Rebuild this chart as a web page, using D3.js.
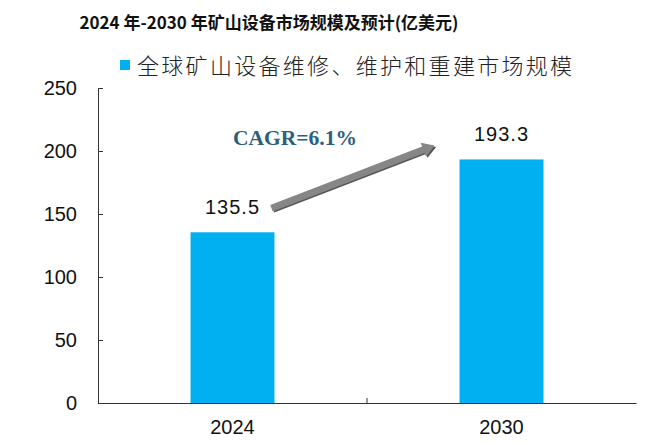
<!DOCTYPE html>
<html><head><meta charset="utf-8">
<script src="https://cdn.jsdelivr.net/npm/d3@7"></script>
<style>body{margin:0;background:#fff}svg{display:block}</style>
</head><body>
<svg id="c" width="660" height="443"></svg>
<script>
const categories = ["2024", "2030"];
const values = [135.5, 193.3];
const valueLabels = ["135.5", "193.3"];
const yTicks = [0, 50, 100, 150, 200, 250];
const seriesName = "全球矿山设备维修、维护和重建市场规模";
const titleText = "2024 年-2030 年矿山设备市场规模及预计(亿美元)";
const cagrText = "CAGR=6.1%";

const svg = d3.select("#c");
const x = d3.scaleBand().domain(categories).range([98, 636]).paddingInner(0.688).paddingOuter(0.344);
const y = d3.scaleLinear().domain([0, 250]).range([403, 88]);

svg.append("text").attr("x", 269).attr("y", 29).attr("text-anchor", "middle")
  .attr("font-family", "'Noto Sans CJK SC', sans-serif").attr("font-weight", "bold")
  .attr("font-size", 17).attr("fill", "#111").text(titleText);

// legend
svg.append("rect").attr("x", 120).attr("y", 60).attr("width", 10).attr("height", 10).attr("fill", "#00b0f0");
svg.append("text").attr("x", 137).attr("y", 74)
  .attr("font-family", "'Noto Sans CJK SC', sans-serif").attr("font-weight", 300)
  .attr("font-size", 22).attr("letter-spacing", 2.3).attr("fill", "#222").text(seriesName);

// bars
svg.selectAll("rect.bar").data(values).join("rect").attr("class", "bar")
  .attr("x", (d, i) => x(categories[i])).attr("width", x.bandwidth())
  .attr("y", d => y(d)).attr("height", d => y(0) - y(d)).attr("fill", "#00b0f0");

// y axis
const ya = svg.append("g").attr("transform", "translate(98,0)")
  .call(d3.axisLeft(y).tickValues(yTicks).tickSize(-5).tickPadding(21));
ya.select(".domain").attr("stroke", "#333");
ya.selectAll(".tick line").attr("stroke", "#333");
ya.selectAll("text").attr("font-family", "'Liberation Sans', Arial, sans-serif").attr("font-size", 20).attr("fill", "#111");

// x axis
const xa = svg.append("g").attr("transform", "translate(0,403)")
  .call(d3.axisBottom(x).tickSize(0).tickPadding(17));
xa.select(".domain").attr("stroke", "#333");
xa.selectAll("text").attr("font-family", "'Liberation Sans', Arial, sans-serif").attr("font-size", 20).attr("fill", "#111");
const mid = (x(categories[0]) + x(categories[1]) + x.bandwidth()) / 2;
svg.append("line").attr("x1", mid).attr("x2", mid).attr("y1", 403).attr("y2", 398).attr("stroke", "#333");

// value labels
svg.selectAll("text.val").data(values).join("text").attr("class", "val")
  .attr("x", (d, i) => x(categories[i]) + x.bandwidth() / 2).attr("y", d => y(d) - 18)
  .attr("text-anchor", "middle").attr("font-family", "'Liberation Sans', Arial, sans-serif")
  .attr("font-size", 20).attr("letter-spacing", 1).attr("fill", "#111")
  .text((d, i) => valueLabels[i]);

// CAGR arrow
const x0 = x(categories[0]) + x.bandwidth() / 2 + 39, y0 = y(values[0]) - 24;
const x1 = x(categories[1]) - 25, y1 = y(values[1]) - 14;
const ang = Math.atan2(y1 - y0, x1 - x0);
const len = Math.hypot(x1 - x0, y1 - y0);
const g = svg.append("g").attr("transform", `translate(${x0},${y0}) rotate(${ang * 180 / Math.PI})`);
g.append("path").attr("d", `M0,-3 L${len - 12},-3 L${len - 12},-7 L${len},0 L${len - 12},7 L${len - 12},3 L0,3 Z`)
  .attr("fill", "#555").attr("transform", "translate(1,2)");
g.append("path").attr("d", `M0,-3.5 L${len - 12},-3.5 L${len - 12},-7.5 L${len},0 L${len - 12},7.5 L${len - 12},3.5 L0,3.5 Z`)
  .attr("fill", "#868686");
svg.append("text").attr("x", 295).attr("y", 145).attr("text-anchor", "middle")
  .attr("font-family", "'Liberation Serif', 'Times New Roman', serif").attr("font-weight", "bold")
  .attr("font-size", 21.5).attr("fill", "#2b5f7c").text(cagrText);
</script>
</body></html>
